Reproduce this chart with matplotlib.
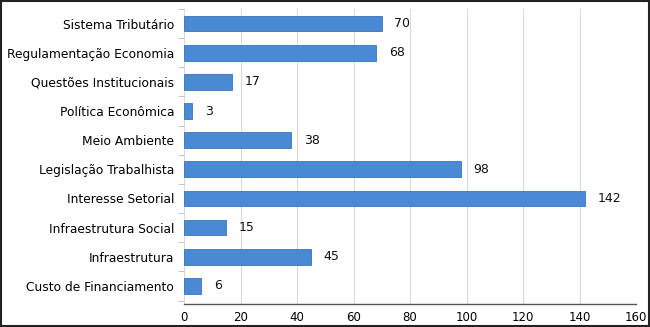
import matplotlib.pyplot as plt
import numpy as np
from matplotlib.patches import Rectangle

categories = ['Custo de Financiamento', 'Infraestrutura', 'Infraestrutura Social',
              'Interesse Setorial', 'Legislação Trabalhista', 'Meio Ambiente',
              'Política Econômica', 'Questões Institucionais',
              'Regulamentação Economia', 'Sistema Tributário']
values = [6, 45, 15, 142, 98, 38, 3, 17, 68, 70]
xticks = [0, 20, 40, 60, 80, 100, 120, 140, 160]

fig = plt.figure(figsize=(6.5, 3.27), dpi=100)
ax = fig.add_axes([184 / 650, (327 - 304) / 327, (636 - 184) / 650, 295 / 327])

y = np.arange(len(categories))
ax.barh(y, values, height=0.54, color='#4a8ad4', edgecolor='#3a74b8', linewidth=0.6, zorder=3)
for yi, v in zip(y, values):
    ax.text(v + 4.5, yi, str(v), va='center', ha='left', fontsize=9, color='#111111')

ax.set_xlim(0, 160)
ax.set_ylim(-0.62, 9.5)
ax.set_xticks(xticks)
ax.set_xticklabels([str(t) for t in xticks], fontsize=8.5)
ax.set_yticks(y)
ax.set_yticklabels(categories, fontsize=8.8)
ax.set_yticks(np.arange(-0.5, 9.6, 1), minor=True)
ax.tick_params(axis='y', which='major', length=0, pad=7)
ax.tick_params(axis='y', which='minor', length=4, color='#bbbbbb', direction='out')
ax.tick_params(axis='x', length=0, pad=5)
ax.grid(axis='x', color='#d9d9e0', linewidth=0.8, zorder=0)
for s in ['top', 'right', 'left']:
    ax.spines[s].set_visible(False)
ax.spines['bottom'].set_color('#555555')
ax.spines['bottom'].set_linewidth(1.0)

fig.patches.append(Rectangle((0.001, 0.002), 0.997, 0.995, transform=fig.transFigure,
                             fill=False, edgecolor='#222222', linewidth=1.5))

fig.savefig('out.png', dpi=100)
